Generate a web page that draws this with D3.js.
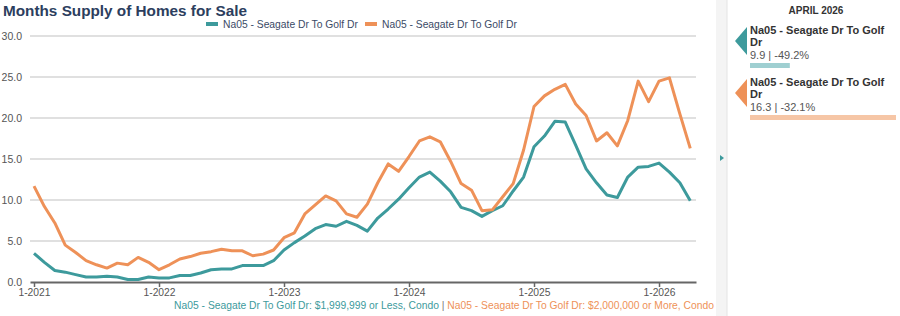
<!DOCTYPE html>
<html>
<head>
<meta charset="utf-8">
<script src="https://cdn.jsdelivr.net/npm/d3@7"></script>
<style>
    body { margin: 0; background: #ffffff; font-family: 'Liberation Sans', Arial, sans-serif; }
</style>
</head>
<body>
<div id="chart"></div>
<script>
// data
var startYear = 2021;
var monthCount = 64;

var seriesNames = [ 'Na05 - Seagate Dr To Golf Dr', 'Na05 - Seagate Dr To Golf Dr' ];
var seriesCaptions = [
    'Na05 - Seagate Dr To Golf Dr: $1,999,999 or Less, Condo',
    'Na05 - Seagate Dr To Golf Dr: $2,000,000 or More, Condo'
];

var lowValues = [
    3.5, 2.4, 1.4, 1.2, 0.9, 0.6, 0.6, 0.7, 0.6, 0.3, 0.3, 0.6,
    0.5, 0.5, 0.8, 0.8, 1.1, 1.5, 1.6, 1.6, 2.0, 2.0, 2.0, 2.6,
    3.9, 4.8, 5.6, 6.5, 7.0, 6.8, 7.4, 6.9, 6.2, 7.8, 8.9, 10.1,
    11.5, 12.8, 13.4, 12.3, 11.0, 9.1, 8.7, 8.0, 8.7, 9.3, 11.1, 12.8,
    16.5, 17.8, 19.6, 19.5, 16.7, 13.8, 12.1, 10.6, 10.3, 12.8, 14.0, 14.1,
    14.5, 13.4, 12.1, 9.9
];

var highValues = [
    11.7, 9.2, 7.2, 4.5, 3.6, 2.6, 2.1, 1.7, 2.3, 2.1, 3.0, 2.4,
    1.5, 2.1, 2.8, 3.1, 3.5, 3.7, 4.0, 3.8, 3.8, 3.2, 3.4, 3.9,
    5.4, 6.0, 8.3, 9.4, 10.5, 9.9, 8.3, 7.9, 9.5, 12.1, 14.4, 13.5,
    15.3, 17.2, 17.7, 17.1, 14.7, 12.0, 11.2, 8.7, 8.8, 10.4, 12.0, 16.1,
    21.4, 22.7, 23.5, 24.1, 21.7, 20.3, 17.2, 18.2, 16.6, 19.7, 24.5, 22.0,
    24.5, 24.9, 20.5, 16.3
];

var yTicks = [ 0, 5, 10, 15, 20, 25, 30 ];
var summaryLabel = 'APRIL 2026';
var summaryValues = [ 9.9, 16.3 ];
var summaryChanges = [ '-49.2%', '-32.1%' ];

var colors = [ '#3d9a9c', '#ee9158' ];
var lightColors = [ '#9fcfd1', '#f6c6a6' ];

// namespace
var supply = {};

// render
supply.render = function( root ) {
    var width = 900;
    var height = 316;

    var plot = {
        left: 30,
        right: 696,
        top: 36,
        bottom: 282
    };

    var svg = d3.select( root )
                .append( 'svg' )
                .attr( 'width', width )
                .attr( 'height', height );

    var x = d3.scaleLinear()
              .domain( [ -0.384, 63.55 ] )
              .range( [ plot.left, plot.right ] );

    var y = d3.scaleLinear()
              .domain( [ 0, 30 ] )
              .range( [ plot.bottom, plot.top ] );

    supply.drawTitle( svg );
    supply.drawLegend( svg );
    supply.drawGrid( svg, x, y, plot );
    supply.drawLines( svg, x, y );
    supply.drawXAxis( svg, x, plot );
    supply.drawCaption( svg );
    supply.drawPanel( svg );
}

// draw title
supply.drawTitle = function( svg ) {
    svg.append( 'text' )
       .attr( 'x', 3 )
       .attr( 'y', 16 )
       .attr( 'font-size', 15.3 )
       .attr( 'font-weight', 'bold' )
       .attr( 'fill', '#2c3e5e' )
       .text( 'Months Supply of Homes for Sale' );
}

// draw legend
supply.drawLegend = function( svg ) {
    var starts = [ 206, 365 ];
    seriesNames.forEach( function( name, i ) {
        svg.append( 'line' )
           .attr( 'x1', starts[ i ] )
           .attr( 'x2', starts[ i ] + 12 )
           .attr( 'y1', 24 )
           .attr( 'y2', 24 )
           .attr( 'stroke', colors[ i ] )
           .attr( 'stroke-width', 4 );
        svg.append( 'text' )
           .attr( 'x', starts[ i ] + 17 )
           .attr( 'y', 28 )
           .attr( 'font-size', 10.3 )
           .attr( 'fill', '#3b4a66' )
           .text( name );
    });
}

// draw grid
supply.drawGrid = function( svg, x, y, plot ) {
    svg.append( 'g' )
       .selectAll( 'line' )
       .data( yTicks.filter( function( d ) { return d > 0; } ) )
       .enter()
       .append( 'line' )
       .attr( 'x1', plot.left )
       .attr( 'x2', plot.right )
       .attr( 'y1', function( d ) { return y( d ); } )
       .attr( 'y2', function( d ) { return y( d ); } )
       .attr( 'stroke', '#d6d6d6' )
       .attr( 'stroke-width', 1.3 );

    svg.append( 'g' )
       .selectAll( 'text' )
       .data( yTicks )
       .enter()
       .append( 'text' )
       .attr( 'x', 22 )
       .attr( 'y', function( d ) { return y( d ) + 4; } )
       .attr( 'text-anchor', 'end' )
       .attr( 'font-size', 10.5 )
       .attr( 'fill', '#555555' )
       .text( function( d ) { return d3.format( '.1f' )( d ); } );
}

// draw lines
supply.drawLines = function( svg, x, y ) {
    var line = d3.line()
                 .x( function( d, i ) { return x( i ); } )
                 .y( function( d ) { return y( d ); } );

    [ lowValues, highValues ].forEach( function( values, i ) {
        svg.append( 'path' )
           .datum( values )
           .attr( 'd', line )
           .attr( 'fill', 'none' )
           .attr( 'stroke', colors[ i ] )
           .attr( 'stroke-width', 3 )
           .attr( 'stroke-linejoin', 'round' );
    });
}

// draw x axis
supply.drawXAxis = function( svg, x, plot ) {
    var ticks = d3.range( 0, monthCount, 12 );

    var axis = d3.axisBottom( x )
                 .tickValues( ticks )
                 .tickSize( 5 )
                 .tickSizeOuter( 0 )
                 .tickFormat( function( d ) { return '1-' + ( startYear + d / 12 ); } );

    var g = svg.append( 'g' )
               .attr( 'transform', 'translate(0,' + plot.bottom + ')' )
               .call( axis );

    g.select( '.domain' )
     .attr( 'stroke', '#666666' )
     .attr( 'stroke-width', 2 );
    g.selectAll( '.tick line' )
     .attr( 'stroke', '#666666' )
     .attr( 'stroke-width', 1.5 );
    g.selectAll( '.tick text' )
     .attr( 'y', 7 )
     .attr( 'font-size', 10.3 )
     .attr( 'font-family', "'Liberation Sans', Arial, sans-serif" )
     .attr( 'fill', '#555555' );
}

// draw caption
supply.drawCaption = function( svg ) {
    var text = svg.append( 'text' )
                  .attr( 'x', 444 )
                  .attr( 'y', 309 )
                  .attr( 'text-anchor', 'middle' )
                  .attr( 'font-size', 10.3 );
    text.append( 'tspan' ).attr( 'fill', colors[ 0 ] ).text( seriesCaptions[ 0 ] );
    text.append( 'tspan' ).attr( 'fill', '#777777' ).text( ' | ' );
    text.append( 'tspan' ).attr( 'fill', colors[ 1 ] ).text( seriesCaptions[ 1 ] );
}

// draw panel
supply.drawPanel = function( svg ) {
    // side strip
    svg.append( 'rect' )
       .attr( 'x', 716 )
       .attr( 'y', 0 )
       .attr( 'width', 11 )
       .attr( 'height', 316 )
       .attr( 'fill', '#f4f4f4' );
    svg.append( 'line' )
       .attr( 'x1', 727 )
       .attr( 'x2', 727 )
       .attr( 'y1', 0 )
       .attr( 'y2', 316 )
       .attr( 'stroke', '#e4e4e4' );
    svg.append( 'path' )
       .attr( 'd', 'M720,155 L724,158 L720,161 Z' )
       .attr( 'fill', colors[ 0 ] );

    svg.append( 'text' )
       .attr( 'x', 816 )
       .attr( 'y', 14 )
       .attr( 'text-anchor', 'middle' )
       .attr( 'font-size', 10 )
       .attr( 'font-weight', 'bold' )
       .attr( 'fill', '#333333' )
       .text( summaryLabel );

    var bar = d3.scaleLinear()
                .domain( [ 7.5, 16.3 ] )
                .range( [ 0, 146 ] );

    summaryValues.forEach( function( value, i ) {
        var top = 27 + i * 52;
        svg.append( 'path' )
           .attr( 'd', 'M735,' + ( top + 14 ) + ' L747,' + top + ' L747,' + ( top + 28 ) + ' Z' )
           .attr( 'fill', colors[ i ] );

        var name = svg.append( 'text' )
                      .attr( 'font-size', 11 )
                      .attr( 'font-weight', 'bold' )
                      .attr( 'fill', '#333333' );
        name.append( 'tspan' ).attr( 'x', 750 ).attr( 'y', top + 7 ).text( 'Na05 - Seagate Dr To Golf' );
        name.append( 'tspan' ).attr( 'x', 750 ).attr( 'y', top + 19 ).text( 'Dr' );

        svg.append( 'text' )
           .attr( 'x', 750 )
           .attr( 'y', top + 32 )
           .attr( 'font-size', 11 )
           .attr( 'fill', '#555555' )
           .text( value.toFixed( 1 ) + ' | ' + summaryChanges[ i ] );

        svg.append( 'rect' )
           .attr( 'x', 750 )
           .attr( 'y', top + 36 )
           .attr( 'width', bar( value ) )
           .attr( 'height', 5 )
           .attr( 'fill', lightColors[ i ] );
    });
}

supply.render( '#chart' );
</script>
</body>
</html>
